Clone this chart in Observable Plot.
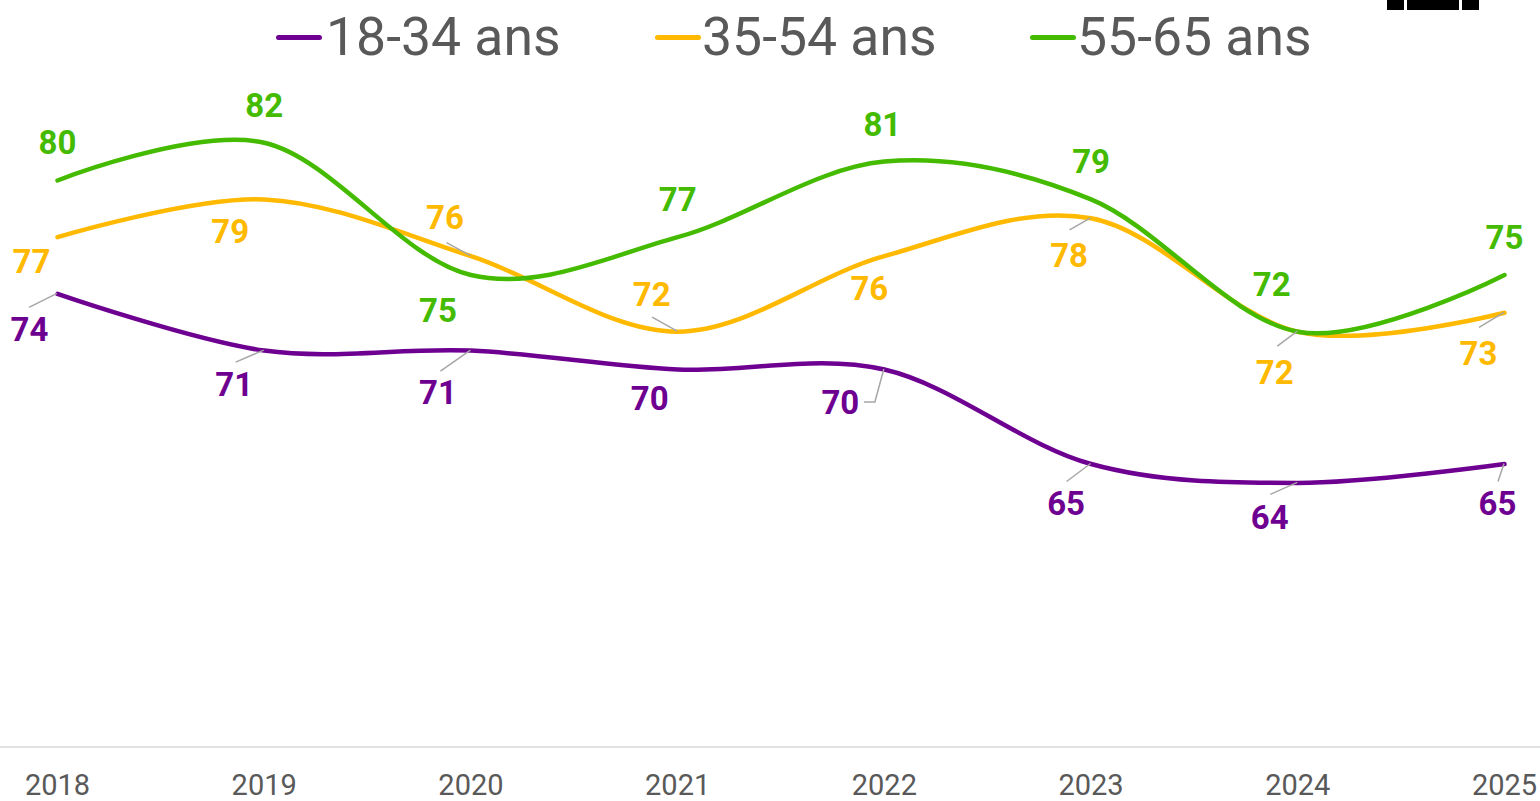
<!DOCTYPE html>
<html>
<head>
<meta charset="utf-8">
<script src="https://cdn.jsdelivr.net/npm/d3@7"></script>
<script src="https://cdn.jsdelivr.net/npm/@observablehq/plot@0.6"></script>
<style>
  body { margin: 0; background: #fff; font-family: Roboto, "Noto Sans", sans-serif; }
  #wrap { position: relative; width: 1540px; height: 801px; overflow: hidden; background: #fff; }
  #legend { position: relative; width: 1540px; height: 75px; }
  .sw { position: absolute; top: 35px; width: 46px; height: 4.5px; border-radius: 2.5px; }
  .lt { position: absolute; top: 6px; font-size: 53.5px; line-height: 62px; color: #595959; white-space: nowrap; font-weight: 400; }
  .blk { position: absolute; top: 0; height: 10px; background: #000; }
  #chart svg { display: block; overflow: visible; }
</style>
</head>
<body>
<div id="wrap">
  <div id="legend"></div>
  <div id="chart"></div>
</div>
<script>
// ---- data ----
const years = [2018, 2019, 2020, 2021, 2022, 2023, 2024, 2025];
const seriesNames = ["18-34 ans", "35-54 ans", "55-65 ans"];
const values1834 = [74, 71, 71, 70, 70, 65, 64, 65];
const values3554 = [77, 79, 76, 72, 76, 78, 72, 73];
const values5565 = [80, 82, 75, 77, 81, 79, 72, 75];

// ---- styles ----
const colors = ["#6E0091", "#FFB900", "#44BB00"];
// label offsets in px from the data point [dx, dy]
const labelOffsets = [
  [[-28, 37], [-30, 35], [-33, 43], [-28, 30], [-44, 34], [-25, 40], [-28, 36], [-7, 40]],
  [[-26, 25], [-34, 33], [-26, -38], [-26, -36], [-15, 33], [-22, 38], [-23, 42], [-26, 42]],
  [[0, -37], [0, -36], [-33, 36], [0, -37], [-2, -36], [0, -37], [-26, -46], [0, -37]]
];
// leader line polyline offsets in px from the data point (null = none)
const leaderOffsets = [
  [[[-28, 14]], [[-28, 12]], [[-30, 21]], null, [[-9, 33], [-20, 33]], [[-24, 18]], [[-27, 12]], [[-6, 18]]],
  [null, null, [[-24, -13]], [[-25, -14]], null, [[-21, 12]], [[-20, 15]], [[-25, 15]]],
  [null, null, null, null, null, null, null, null]
];

const seriesValues = [values1834, values3554, values5565];
const rows = [];
seriesValues.forEach((vals, s) => {
  vals.forEach((v, i) => rows.push({series: seriesNames[s], s, i, year: years[i], value: v}));
});

// ---- legend ----
const legend = document.getElementById("legend");
const legendPos = [[276, 326], [655, 702], [1030, 1077]];
seriesNames.forEach((name, s) => {
  const sw = document.createElement("div");
  sw.className = "sw";
  sw.style.left = legendPos[s][0] + "px";
  sw.style.background = colors[s];
  legend.appendChild(sw);
  const t = document.createElement("div");
  t.className = "lt";
  t.style.left = legendPos[s][1] + "px";
  t.textContent = name;
  legend.appendChild(t);
});
[[1387, 17], [1407, 52], [1462, 17]].forEach(([l, w]) => {
  const b = document.createElement("div");
  b.className = "blk";
  b.style.left = l + "px";
  b.style.width = w + "px";
  legend.appendChild(b);
});

// ---- chart ----
const svgNS = "http://www.w3.org/2000/svg";

function baseline(index, scales, values, dimensions) {
  const g = document.createElementNS(svgNS, "g");
  const line = document.createElementNS(svgNS, "line");
  const y = scales.y(50);
  line.setAttribute("x1", 0);
  line.setAttribute("x2", dimensions.width);
  line.setAttribute("y1", y);
  line.setAttribute("y2", y);
  line.setAttribute("stroke", "#D9D9D9");
  line.setAttribute("stroke-width", 1.5);
  g.appendChild(line);
  return g;
}

function leaders(index, scales, values, dimensions) {
  const g = document.createElementNS(svgNS, "g");
  rows.forEach(r => {
    const pts = leaderOffsets[r.s][r.i];
    if (!pts) return;
    const x0 = scales.x(r.year), y0 = scales.y(r.value);
    let d = `M${x0},${y0}`;
    pts.forEach(([dx, dy]) => { d += `L${x0 + dx},${y0 + dy}`; });
    const p = document.createElementNS(svgNS, "path");
    p.setAttribute("d", d);
    p.setAttribute("fill", "none");
    p.setAttribute("stroke", "#A6A6A6");
    p.setAttribute("stroke-width", 1.5);
    g.appendChild(p);
  });
  return g;
}

const labelMarks = rows.map(r => Plot.text([r], {
  x: "year",
  y: "value",
  text: d => String(d.value),
  dx: labelOffsets[r.s][r.i][0],
  dy: labelOffsets[r.s][r.i][1],
  fill: colors[r.s],
  fontSize: 33,
  fontWeight: "bold"
}));

const chart = Plot.plot({
  width: 1540,
  height: 726,
  marginLeft: 57,
  marginRight: 36,
  marginTop: 10.5,
  marginBottom: 54,
  style: {fontFamily: "Roboto, 'Noto Sans', sans-serif", background: "#fff", overflow: "visible"},
  x: {type: "linear", domain: [2018, 2025], axis: null},
  y: {domain: [50, 85], axis: null},
  color: {domain: seriesNames, range: colors},
  marks: [
    baseline,
    Plot.line(rows, {x: "year", y: "value", z: "series", stroke: "series", strokeWidth: 4.5, curve: "cardinal", strokeLinecap: "round"}),
    leaders,
    ...labelMarks,
    Plot.text(years, {x: d => d, frameAnchor: "bottom", lineAnchor: "middle", dy: 38, text: d => String(d), fontSize: 29, fill: "#595959"})
  ]
});
document.getElementById("chart").appendChild(chart);
</script>
</body>
</html>
